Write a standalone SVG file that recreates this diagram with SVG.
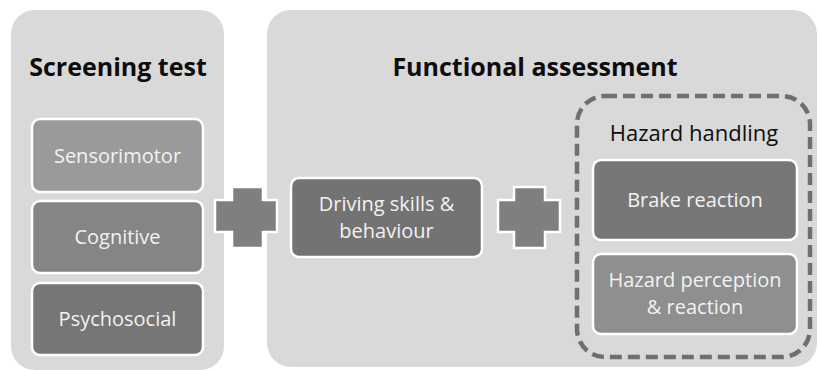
<svg xmlns="http://www.w3.org/2000/svg" width="818" height="370" viewBox="0 0 818 370">
<style>
.panel{fill:#d9d9d9}
.box{stroke:#fff;stroke-width:2.5}
.t{font-family:"Open Sans","Liberation Sans",sans-serif;fill:#f2f2f2;font-size:20px;text-anchor:middle}
.h{font-family:"Open Sans","Liberation Sans",sans-serif;fill:#0d0d0d;font-size:25px;font-weight:bold;text-anchor:middle}
.plus{fill:#7f7f7f;stroke:#fff;stroke-width:2.5;stroke-linejoin:miter}
</style>
<rect width="818" height="370" fill="#fff"/>
<g id="screening">
<rect class="panel" x="11" y="10" width="213" height="360" rx="24"/>
<text class="h" x="118" y="76">Screening test</text>
</g>
<g id="functional">
<rect class="panel" x="267" y="10" width="550" height="357" rx="24"/>
<text class="h" x="535" y="76">Functional assessment</text>
</g>
<g id="sensorimotor">
<rect class="box" x="32" y="119" width="171" height="73" rx="8" fill="#9a9a9a"/>
<text class="t" x="117.5" y="163">Sensorimotor</text>
</g>
<g id="cognitive">
<rect class="box" x="32" y="201" width="171" height="72" rx="8" fill="#858585"/>
<text class="t" x="117.5" y="244">Cognitive</text>
</g>
<g id="psychosocial">
<rect class="box" x="32" y="283" width="171" height="72" rx="8" fill="#767676"/>
<text class="t" x="117.5" y="326">Psychosocial</text>
</g>
<g id="driving">
<rect class="box" x="291" y="178" width="191" height="79" rx="8" fill="#737373"/>
<text class="t" x="386.5" y="211">Driving skills &amp;</text>
<text class="t" x="386.5" y="238">behaviour</text>
</g>
<g id="hazard-handling">
<rect x="577" y="96" width="233" height="261" rx="28" fill="none" stroke="#6f6f6f" stroke-width="4.5" stroke-dasharray="12 6"/>
<text class="t" x="694" y="141" style="fill:#0d0d0d;font-size:22px">Hazard handling</text>
</g>
<g id="brake">
<rect class="box" x="593" y="160" width="204" height="80" rx="8" fill="#777777"/>
<text class="t" x="695" y="207">Brake reaction</text>
</g>
<g id="perception">
<rect class="box" x="593" y="254" width="204" height="80" rx="8" fill="#8f8f8f"/>
<text class="t" x="695" y="287">Hazard perception</text>
<text class="t" x="695" y="314">&amp; reaction</text>
</g>
<g id="connectors">
<path class="plus" d="M232,187 H263 V200 H277 V232 H263 V248 H232 V232 H215 V200 H232 Z"/>
<path class="plus" d="M514,187 H545 V200 H560 V232 H545 V248 H514 V232 H498 V200 H514 Z"/>
</g>
</svg>
